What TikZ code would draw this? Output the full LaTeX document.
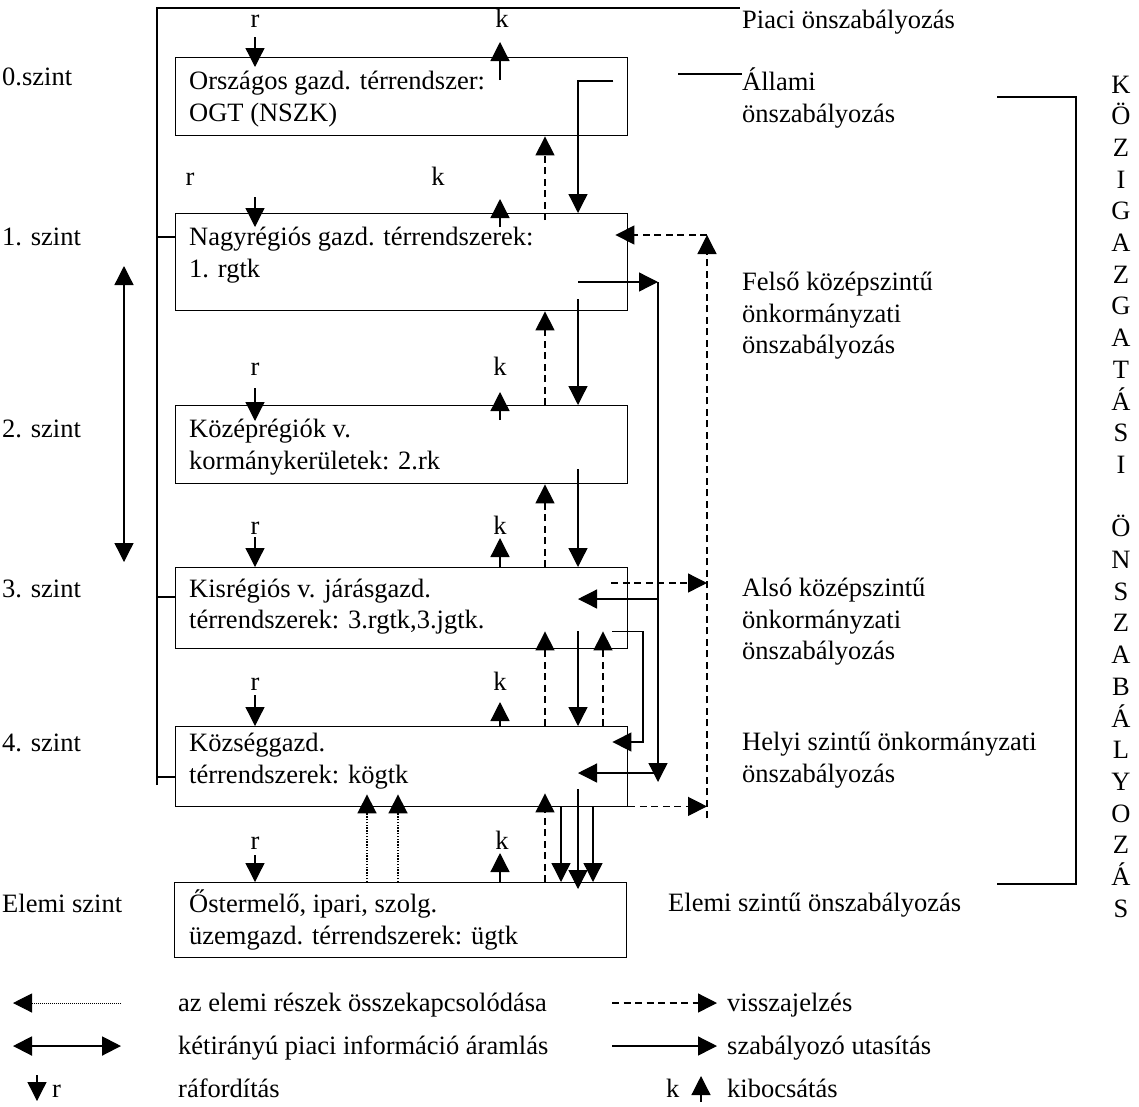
\documentclass[tikz,border=0pt]{standalone}
\usepackage{fontspec}
\setmainfont{Liberation Serif}
\usetikzlibrary{arrows.meta,calc}
\newcommand{\dgfont}{\fontsize{26.5pt}{31.7pt}\selectfont}
\begin{document}
\begin{tikzpicture}[x=1pt,y=-1pt,
  every node/.style={font=\dgfont, inner sep=0pt},
  box/.style={draw, line width=1.4pt, anchor=north west, minimum width=452pt},
  lbl/.style={anchor=base west},
  ctr/.style={anchor=base},
  ln/.style={line width=1.3pt},
  arr/.style={ln, -{Triangle[length=19pt,width=19pt]}},
  dbl/.style={ln, {Triangle[length=19pt,width=19pt]}-{Triangle[length=19pt,width=19pt]}},
  fb/.style={dash pattern=on 7pt off 4.5pt},
  lnk/.style={dash pattern=on 1.4pt off 1.4pt, line width=1.7pt}
]
\fill[white] (0,0) rectangle (1139,1106);
\useasboundingbox (0,0) rectangle (1139,1106);

% ---- level boxes ----
\node[box, minimum height=78pt] (b0) at (175,57)  {};
\node[box, minimum height=97pt] (b1) at (175,213) {};
\node[box, minimum height=78pt] (b2) at (175,405) {};
\node[box, minimum height=81pt] (b3) at (175,567) {};
\node[box, minimum height=80pt] (b4) at (175,726) {};
\node[box, minimum height=75pt] (b5) at (174,882) {};

\node[lbl] (t0a) at (189,89)  {Országos gazd. térrendszer:};
\node[lbl] (t0b) at (189,121) {OGT (NSZK)};
\node[lbl] (t1a) at (189,245) {Nagyrégiós gazd. térrendszerek:};
\node[lbl] (t1b) at (189,277) {1. rgtk};
\node[lbl] (t2a) at (189,437) {Középrégiók v.};
\node[lbl] (t2b) at (189,469) {kormánykerületek: 2.rk};
\node[lbl] (t3a) at (189,597) {Kisrégiós v. járásgazd.};
\node[lbl] (t3b) at (189,628) {térrendszerek: 3.rgtk,3.jgtk.};
\node[lbl] (t4a) at (189,751) {Községgazd.};
\node[lbl] (t4b) at (189,783) {térrendszerek: kögtk};
\node[lbl] (t5a) at (189,912) {Őstermelő, ipari, szolg.};
\node[lbl] (t5b) at (189,944) {üzemgazd. térrendszerek: ügtk};

% ---- level names ----
\node[lbl] (s0) at (2,85)  {0.szint};
\node[lbl] (s1) at (2,245) {1. szint};
\node[lbl] (s2) at (2,437) {2. szint};
\node[lbl] (s3) at (2,597) {3. szint};
\node[lbl] (s4) at (2,751) {4. szint};
\node[lbl] (s5) at (2,912) {Elemi szint};

% ---- regulation labels ----
\node[lbl] (piaci) at (742,28)  {Piaci önszabályozás};
\node[lbl] (all1)  at (742,90)  {Állami};
\node[lbl] (all2)  at (742,122) {önszabályozás};
\node[lbl] (fel1)  at (742,290) {Felső középszintű};
\node[lbl] (fel2)  at (742,322) {önkormányzati};
\node[lbl] (fel3)  at (742,353) {önszabályozás};
\node[lbl] (als1)  at (742,596) {Alsó középszintű};
\node[lbl] (als2)  at (742,628) {önkormányzati};
\node[lbl] (als3)  at (742,659) {önszabályozás};
\node[lbl] (hel1)  at (742,750) {Helyi szintű önkormányzati};
\node[lbl] (hel2)  at (742,782) {önszabályozás};
\node[lbl] (elm)   at (668,911) {Elemi szintű önszabályozás};

% ---- vertical title ----
\foreach \ch [count=\i from 0] in {K,Ö,Z,I,G,A,Z,G,A,T,Á,S,I}
  \node[ctr] (va\i) at (1121,{93+31.7*\i}) {\ch};
\foreach \ch [count=\i from 14] in {Ö,N,S,Z,A,B,Á,L,Y,O,Z,Á,S}
  \node[ctr] (vb\i) at (1121,{93+31.7*\i}) {\ch};

\coordinate (brT) at (997,97);
\coordinate (brB) at (997,884);
\draw[ln] (brT) -- ++(79,0) |- (brB);

% ---- market frame ----
\coordinate (fTL) at (157,8);
\coordinate (fTR) at (740,8);
\coordinate (fB)  at (157,785);
\draw[ln] (fB) -- (fTL) -- (fTR);
\draw[ln] ($(fTL|-b1.north)+(0,24)$) -- ($(b1.north west)+(0,24)$);
\draw[ln] ($(fTL|-b3.north)+(0,30)$) -- ($(b3.north west)+(0,30)$);
\draw[ln] ($(fTL|-b4.north)+(0,51)$) -- ($(b4.north west)+(0,51)$);
\coordinate (aL) at (678,74);
\draw[ln] (aL) -- (aL -| all1.west);

% ---- two-way market information ----
\coordinate (da1) at (124,266);
\coordinate (da2) at (124,562);
\draw[dbl] (da1) -- (da2);

% ---- columns ----
\coordinate (cr)  at (255,0);
\coordinate (ck)  at (500,0);
\coordinate (cd)  at (545,0);
\coordinate (cs1) at (561,0);
\coordinate (cs)  at (578,0);
\coordinate (cs3) at (593,0);
\coordinate (cq)  at (603,0);
\coordinate (cl)  at (643,0);
\coordinate (cv)  at (658,0);
\coordinate (cf)  at (707,0);
\coordinate (cx1) at (367,0);
\coordinate (cx2) at (398,0);

% ---- inputs (r) and outputs (k) ----
\node[ctr] (r0) at (255,27)  {r};  \node[ctr] (k0) at (502,27)  {k};
\node[ctr] (r1) at (190,185) {r};  \node[ctr] (k1) at (438,185) {k};
\node[ctr] (r2) at (255,375) {r};  \node[ctr] (k2) at (500,375) {k};
\node[ctr] (r3) at (255,534) {r};  \node[ctr] (k3) at (500,534) {k};
\node[ctr] (r4) at (255,690) {r};  \node[ctr] (k4) at (500,690) {k};
\node[ctr] (r5) at (255,849) {r};  \node[ctr] (k5) at (502,849) {k};

\draw[arr] ($(cr|-b0.north)+(0,-20)$) -- ($(cr|-b0.north)+(0,10)$);
\draw[arr] ($(ck|-b0.north)+(0,23)$)  -- ($(ck|-b0.north)+(0,-15)$);
\draw[arr] ($(cr|-b1.north)+(0,-16)$) -- ($(cr|-b1.north)+(0,14)$);
\draw[arr] ($(ck|-b1.north)+(0,14)$)  -- ($(ck|-b1.north)+(0,-14)$);
\draw[arr] ($(cr|-b2.north)+(0,-17)$) -- ($(cr|-b2.north)+(0,16)$);
\draw[arr] ($(ck|-b2.north)+(0,15)$)  -- ($(ck|-b2.north)+(0,-13)$);
\draw[arr] ($(cr|-b3.north)+(0,-30)$) -- (cr|-b3.north);
\draw[arr] (ck|-b3.north) -- ($(ck|-b3.north)+(0,-29)$);
\draw[arr] ($(cr|-b4.north)+(0,-31)$) -- (cr|-b4.north);
\draw[arr] (ck|-b4.north) -- ($(ck|-b4.north)+(0,-24)$);
\draw[arr] ($(cr|-b5.north)+(0,-27)$) -- (cr|-b5.north);
\draw[arr] (ck|-b5.north) -- ($(ck|-b5.north)+(0,-29)$);

% ---- regulating instructions (solid) and feedback (dashed) ----
\draw[arr] ($(b0.north east)+(-15,24)$) -| (cs|-b1.north);
\draw[arr,fb] ($(cd|-b1.north)+(0,7)$) -- (cd|-b0.south);
\draw[arr] ($(cs|-b1.south)+(0,-12)$) -- (cs|-b2.north);
\draw[arr,fb] (cd|-b2.north) -- (cd|-b1.south);
\draw[arr] ($(cs|-b2.south)+(0,-15)$) -- (cs|-b3.north);
\draw[arr,fb] (cd|-b3.north) -- (cd|-b2.south);
\draw[arr] ($(cs|-b3.south)+(0,-18)$) -- (cs|-b4.north);
\draw[arr,fb] (cd|-b4.north) -- ($(cd|-b3.south)+(0,-18)$);
\draw[arr,fb] (cq|-b4.north) -- ($(cq|-b3.south)+(0,-18)$);
\draw[arr] ($(b3.south east)+(-16,-18)$) -| ($(cl|-b4.north)+(0,16)$) -- ($(b4.north east)+(-16,16)$);

\coordinate (fork) at (658,282);
\draw[arr] (cs|-fork) -- (fork);
\draw[arr] (fork) -- ($(cv|-b4.north)+(0,56)$);
\draw[arr] ($(cv|-b3.north)+(0,32)$) -- ($(cs|-b3.north)+(0,32)$);
\draw[arr] ($(cv|-b4.north)+(0,47)$) -- ($(cs|-b4.north)+(0,47)$);

\coordinate (fbtop) at (707,235);
\draw[arr,fb] ($(cf|-b4.south)+(0,11)$) -- (fbtop);
\draw[arr,fb] (fbtop) -- ($(b1.north east)+(-13,22)$);
\draw[arr,fb] ($(b3.north east)+(-17,16)$) -- ($(cf|-b3.north)+(0,16)$);
\draw[arr,fb] ($(b4.south east)+(0,-1)$) -- ($(cf|-b4.south)+(0,-1)$);

% ---- between the local and the elementary level ----
\draw[arr,lnk] (cx1|-b5.north) -- ($(cx1|-b4.south)+(0,-13)$);
\draw[arr,lnk] (cx2|-b5.north) -- ($(cx2|-b4.south)+(0,-13)$);
\draw[arr,fb] (cd|-b5.north) -- ($(cd|-b4.south)+(0,-14)$);
\draw[arr] (cs1|-b4.south) -- (cs1|-b5.north);
\draw[arr] ($(cs|-b4.south)+(0,-18)$) -- ($(cs|-b5.north)+(0,7)$);
\draw[arr] (cs3|-b4.south) -- (cs3|-b5.north);

% ---- legend ----
\coordinate (g1a) at (121,1003); \coordinate (g1b) at (13,1003);
\coordinate (g2a) at (13,1046);  \coordinate (g2b) at (121,1046);
\coordinate (g3a) at (37,1075);  \coordinate (g3b) at (37,1101);
\coordinate (h1a) at (612,1003); \coordinate (h1b) at (717,1003);
\coordinate (h2a) at (612,1046); \coordinate (h2b) at (717,1046);
\coordinate (h3a) at (701,1102); \coordinate (h3b) at (701,1076);
\draw[arr,dash pattern=on 1pt off 1pt,line width=1pt] (g1a) -- (g1b);
\draw[dbl,line width=2pt] (g2a) -- (g2b);
\draw[arr] (g3a) -- (g3b);
\draw[arr,fb] (h1a) -- (h1b);
\draw[arr] (h2a) -- (h2b);
\draw[arr] (h3a) -- (h3b);
\node[lbl] (lr)  at (52,1097)  {r};
\node[lbl] (lk)  at (666,1097) {k};
\node[lbl] (e1) at (178,1011) {az elemi részek összekapcsolódása};
\node[lbl] (e2) at (178,1054) {kétirányú piaci információ áramlás};
\node[lbl] (e3) at (178,1097) {ráfordítás};
\node[lbl] (f1) at (727,1011) {visszajelzés};
\node[lbl] (f2) at (727,1054) {szabályozó utasítás};
\node[lbl] (f3) at (727,1097) {kibocsátás};
\end{tikzpicture}
\end{document}
